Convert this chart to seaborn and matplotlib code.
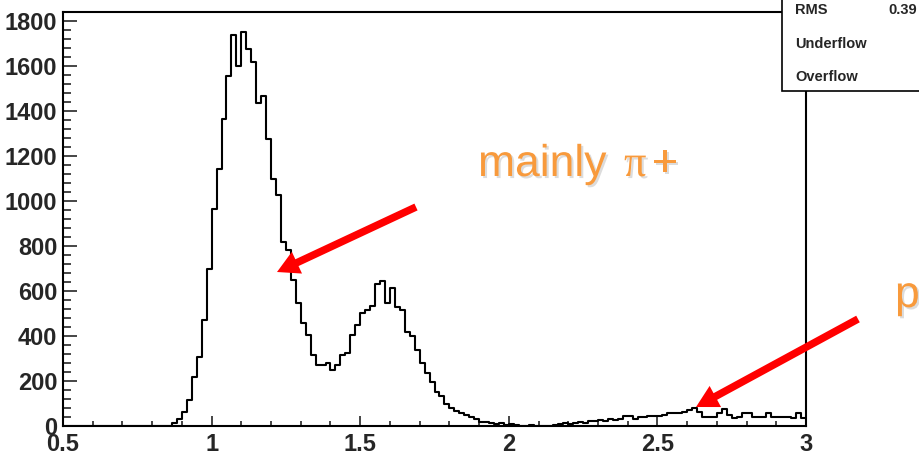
import numpy as np
import pandas as pd
import seaborn as sns
import matplotlib
import matplotlib.pyplot as plt
from matplotlib import font_manager
from matplotlib.patches import Rectangle, FancyArrow
from matplotlib.transforms import IdentityTransform
from matplotlib.ticker import MultipleLocator, FixedLocator, FixedFormatter
import matplotlib.patheffects as pe

# ---------------- data ----------------
x_min, x_max, n_bins = 0.5, 3.0, 150
counts = [
    0, 0, 0, 0, 0, 0, 0, 0, 0, 0,            # 0-9
    0, 0, 0, 0, 0, 0, 0, 0, 0, 0,            # 10-19
    0, 2, 12, 30, 64, 116, 219, 308, 471, 696,   # 20-29
    963, 1141, 1364, 1556, 1738, 1600, 1750, 1674, 1616, 1437,  # 30-39
    1467, 1276, 1096, 1027, 819, 782, 649, 545, 456, 404,  # 40-49
    316, 271, 271, 281, 250, 271, 316, 323, 404, 449,     # 50-59
    501, 516, 533, 630, 645, 545, 612, 530, 516, 420,     # 60-69
    400, 338, 278, 234, 197, 153, 135, 100, 80, 65,       # 70-79
    57, 50, 40, 30, 20, 18, 12, 8, 12, 6,                 # 80-89
    10, 4, 2, 0, 3, 0, 0, 0, 2, 4,                        # 90-99
    10, 12, 10, 15, 18, 15, 22, 22, 27, 22,               # 100-109
    30, 27, 30, 44, 44, 30, 39, 39, 44, 44,               # 110-119
    44, 49, 59, 56, 56, 64, 70, 79, 64, 39,               # 120-129
    39, 39, 59, 75, 50, 35, 39, 56, 56, 39,               # 130-139
    39, 39, 56, 39, 39, 39, 39, 35, 56, 34,               # 140-149
]
x_ticks = [0.5, 1.0, 1.5, 2.0, 2.5, 3.0]
x_tick_labels = ["0.5", "1", "1.5", "2", "2.5", "3"]
y_ticks = [0, 200, 400, 600, 800, 1000, 1200, 1400, 1600, 1800]
y_tick_labels = [str(v) for v in y_ticks]
stats_names = ["RMS", "Underflow", "Overflow"]
stats_values = ["0.39", "", ""]
note_main = "mainly"
note_p = "p"

edges = np.linspace(x_min, x_max, n_bins + 1)
centers = 0.5 * (edges[:-1] + edges[1:])
df = pd.DataFrame({"x": centers, "w": counts})

# ---------------- style ----------------
sns.set_theme(style="white")
names = {f.name for f in font_manager.fontManager.ttflist}
root_font = "Liberation Sans Narrow" if "Liberation Sans Narrow" in names else "Liberation Sans"
narrow = root_font == "Liberation Sans Narrow"
plt.rcParams["font.family"] = ["Liberation Sans", "DejaVu Sans"]

W, H = 919, 461
fig = plt.figure(figsize=(W / 100, H / 100), dpi=100)
ax = fig.add_axes([63 / W, 1 - 426 / H, (806 - 63) / W, (426 - 12) / H])

sns.histplot(data=df, x="x", weights="w", bins=n_bins, binrange=(x_min, x_max),
             element="step", fill=False, color="black", linewidth=1.5, ax=ax)

ax.set_xlim(x_min, x_max)
ax.set_ylim(0, 1840)
ax.set_xlabel("")
ax.set_ylabel("")
ax.set_facecolor("white")
for s in ax.spines.values():
    s.set_visible(True)
    s.set_color("black")
    s.set_linewidth(1.5)

ax.xaxis.set_major_locator(FixedLocator(x_ticks))
ax.xaxis.set_major_formatter(FixedFormatter(x_tick_labels))
ax.xaxis.set_minor_locator(MultipleLocator(0.1))
ax.yaxis.set_major_locator(FixedLocator(y_ticks))
ax.yaxis.set_major_formatter(FixedFormatter(y_tick_labels))
ax.yaxis.set_minor_locator(MultipleLocator(40))

tick_size = 20 if narrow else 17
ax.tick_params(axis="x", which="major", direction="in", length=7.5, width=1.2,
               pad=5, labelsize=tick_size, bottom=True, top=False)
ax.tick_params(axis="x", which="minor", direction="in", length=3.8, width=1.2,
               bottom=True, top=False)
ax.tick_params(axis="y", which="major", direction="in", length=10, width=1.2,
               pad=4, labelsize=tick_size, left=True, right=False)
ax.tick_params(axis="y", which="minor", direction="in", length=5.5, width=1.2,
               left=True, right=False)
for lab in ax.get_xticklabels() + ax.get_yticklabels():
    lab.set_family(root_font)
    lab.set_fontweight("bold")

# ---------------- stats box ----------------
box = Rectangle((782, 461 - 91), 160, 100, transform=IdentityTransform(),
                facecolor="white", edgecolor="black", linewidth=1.2, zorder=5)
fig.add_artist(box)
stat_size = 12.5 if narrow else 10.5
ys = [10, 44, 77]
for name, val, yy in zip(stats_names, stats_values, ys):
    fig.text(795 / W, 1 - yy / H, name, ha="left", va="center", family=root_font,
             fontweight="bold", fontsize=stat_size, zorder=6)
    if val:
        fig.text(888 / W, 1 - yy / H, val, ha="left", va="center", family=root_font,
                 fontweight="bold", fontsize=stat_size, zorder=6)

# ---------------- annotations ----------------
orange = "#F89A3C"
shadow = [pe.SimplePatchShadow(offset=(1.5, -1.5), shadow_rgbFace="#bbbbbb", alpha=0.5), pe.Normal()]
fs = 32
fig.text(478 / W, 1 - 176 / H, note_main, ha="left", va="baseline", color=orange,
         fontsize=fs, family="Liberation Sans", path_effects=shadow)
fig.text(624 / W, 1 - 176 / H, "\u03c0", ha="left", va="baseline", color=orange,
         fontsize=fs, family="Liberation Serif", path_effects=shadow)
fig.text(652 / W, 1 - 176 / H, "+", ha="left", va="baseline", color=orange,
         fontsize=fs, family="Liberation Sans", path_effects=shadow)
fig.text(895 / W, 1 - 307 / H, note_p, ha="left", va="baseline", color=orange,
         fontsize=fs, family="Liberation Sans", path_effects=shadow)

def arrow(tail, tip):
    tx, ty = tail[0], H - tail[1]
    hx, hy = tip[0], H - tip[1]
    a = FancyArrow(tx, ty, hx - tx, hy - ty, width=7.5, head_width=24, head_length=22,
                   length_includes_head=True, color="#ff0000", linewidth=0,
                   transform=IdentityTransform(), zorder=7)
    fig.add_artist(a)

arrow((416, 207), (277, 272))
arrow((858, 319), (696, 407))

fig.savefig("out.png", dpi=100)
